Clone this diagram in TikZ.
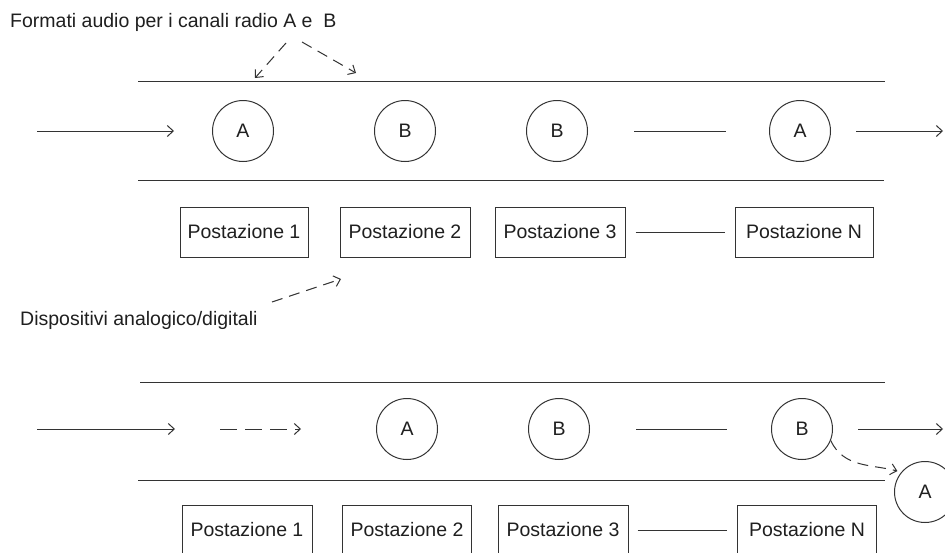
\documentclass[tikz,border=0pt]{standalone}
\usepackage{fontspec}
\setmainfont{Liberation Sans}
\usetikzlibrary{arrows.meta}
\begin{document}
\begin{tikzpicture}[x=1pt,y=-1pt,
  ink/.style={draw=black!80, line width=1pt},
  lbl/.style={font=\fontsize{19.5}{22}\selectfont, text=black!88, inner sep=0pt},
  slot/.style={ink, circle, minimum size=61pt, inner sep=0pt, text=black!88, font=\fontsize{19.5}{22}\selectfont},
  station/.style={ink, rectangle, minimum height=50pt, inner sep=0pt, text=black!88, font=\fontsize{19.5}{22}\selectfont},
  flow/.style={ink, -{Straight Barb[length=6pt,width=11pt]}},
  hint/.style={ink, dash pattern=on 11pt off 7pt, -{Straight Barb[length=6pt,width=11pt]}},
  rail/.style={ink}
]
\useasboundingbox (0,0) rectangle (945,552);
\fill[white] (0,0) rectangle (945,552);

% ---------- upper chain ----------
\node[lbl, anchor=base west] (title) at (10,27) {Formati audio per i canali radio A e\ \ B};
\coordinate (tA) at (286,43);
\coordinate (tB) at (302,42);
\coordinate (hA) at (255,78);
\coordinate (hB) at (356,73);
\draw[hint] (tA) -- (hA);
\draw[hint] (tB) -- (hB);

\coordinate (r1l) at (138,81);  \coordinate (r1r) at (885,81);
\coordinate (r2l) at (138,180); \coordinate (r2r) at (884,180);
\draw[rail] (r1l) -- (r1r);
\draw[rail] (r2l) -- (r2r);

\node[slot] (u1) at (243,131) {A};
\node[slot] (u2) at (405,131) {B};
\node[slot] (u3) at (557,131) {B};
\node[slot] (u4) at (800,131) {A};
\coordinate (uin) at (37,131);
\coordinate (uout) at (943,131);
\draw[flow, shorten >=38pt] (uin) -- (u1);
\draw[ink, shorten <=46pt, shorten >=43pt] (u3) -- (u4);
\draw[flow, shorten <=25pt] (u4) -- (uout);

\node[station, minimum width=128pt] (p1) at (244,232) {Postazione 1};
\node[station, minimum width=130pt] (p2) at (405,232) {Postazione 2};
\node[station, minimum width=130pt] (p3) at (560,232) {Postazione 3};
\node[station, minimum width=138pt] (pN) at (804,232) {Postazione N};
\draw[ink, shorten <=10pt, shorten >=10pt] (p3) -- (pN);

% ---------- devices note ----------
\node[lbl, anchor=base west] (dev) at (20,325) {Dispositivi analogico/digitali};
\coordinate (dS) at (272,302);
\coordinate (dE) at (341,279);
\draw[hint] (dS) -- (dE);

% ---------- lower chain ----------
\coordinate (s1l) at (140,382); \coordinate (s1r) at (885,382);
\coordinate (s2l) at (138,480); \coordinate (s2r) at (885,480);
\draw[rail] (s1l) -- (s1r);
\draw[rail] (s2l) -- (s2r);

\node[slot] (l1) at (407,429) {A};
\node[slot] (l2) at (559,429) {B};
\node[slot] (l3) at (802,429) {B};
\node[slot] (lx) at (925,492) {A};
\coordinate (lin) at (37,429);
\coordinate (lend) at (175,429);
\coordinate (lout) at (943,429);
\coordinate (gapS) at (220,429);
\coordinate (gapE) at (301,429);
\draw[flow] (lin) -- (lend);
\draw[ink, dash pattern=on 17pt off 8pt, -{Straight Barb[length=6pt,width=11pt]}] (gapS) -- (gapE);
\draw[ink, shorten <=46pt, shorten >=44pt] (l2) -- (l3);
\draw[flow, shorten <=25pt] (l3) -- (lout);
\draw[ink, dash pattern=on 11pt off 7pt, -{Straight Barb[length=6pt,width=11pt]}, shorten >=4pt]
  (l3.-22) to[out=-65, in=165] (lx.140);

\node[station, minimum width=130pt] (q1) at (247,530) {Postazione 1};
\node[station, minimum width=129pt] (q2) at (407,530) {Postazione 2};
\node[station, minimum width=130pt] (q3) at (563,530) {Postazione 3};
\node[station, minimum width=139pt] (qN) at (807,530) {Postazione N};
\draw[ink, shorten <=9pt, shorten >=10pt] (q3) -- (qN);
\end{tikzpicture}
\end{document}
